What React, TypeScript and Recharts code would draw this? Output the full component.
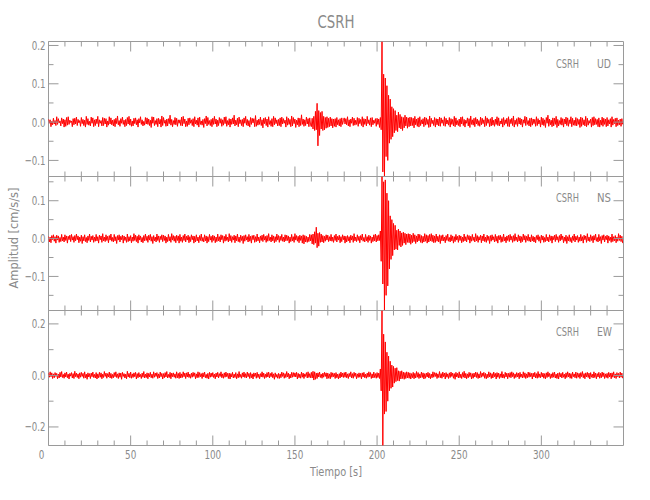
import React from 'react';
import { LineChart, Line, XAxis, YAxis, ReferenceArea } from 'recharts';

// Sampling interval of the traces (seconds) and end of the record
const DT = 0.5;
const X_MAX = 350;

// Acceleration traces, in units of 0.001 cm/s/s, one value per 0.5 s sample (20 values = 10 s per row)
const UD = [
  8,-3,6,-12,2,-7,10,-5,4,-9,14,-6,9,-2,3,-10,11,-4,8,-13,
  6,-11,12,-8,14,-6,5,-1,3,-12,9,-7,10,-5,13,-9,7,-2,4,-11,
  12,-4,7,-9,5,-13,15,-6,9,-8,2,-10,13,-3,11,-12,6,-9,8,-4,
  15,-12,6,-3,4,-10,12,-9,10,-5,9,-13,3,-8,14,-5,11,-7,5,-10,
  7,-12,10,-4,16,-7,4,-11,9,-3,13,-6,5,-12,7,-9,12,-5,15,-8,
  8,-11,3,-10,10,-4,11,-7,6,-13,9,-2,14,-6,6,-10,2,-8,12,-5,
  11,-6,8,-9,5,-14,14,-3,13,-9,4,-6,9,-12,10,-5,7,-13,16,-9,
  12,-3,5,-11,8,-10,9,-4,18,-8,7,-12,4,-6,12,-7,10,-11,6,-3,
  6,-9,13,-10,15,-4,8,-12,3,-11,10,-7,11,-3,6,-9,9,-12,14,-5,
  5,-8,11,-13,13,-6,3,-8,7,-14,9,-4,16,-10,12,-6,4,-9,7,-12,
  10,-6,15,-5,8,-12,5,-9,12,-3,9,-11,6,-8,13,-4,14,-11,4,-7,
  9,-13,8,-6,11,-5,18,-10,5,-7,10,-12,13,-4,6,-9,7,-12,11,-3,
  15,-8,7,-10,4,-13,12,-6,10,-2,9,-12,17,-11,5,-8,8,-6,13,-9,
  6,-15,10,-4,12,-9,8,-13,14,-6,4,-11,9,-12,15,-7,11,-4,6,-10,
  7,-9,11,-12,13,-5,9,-3,5,-13,14,-8,10,-6,7,-12,16,-10,12,-4,
  8,-14,5,-7,11,-12,10,-9,19,-6,8,-11,6,-9,13,-5,9,-12,11,-7,
  -12,10,-18,15,-22,28,-20,49,-62,30,-35,25,-18,28,-22,15,-20,12,-16,14,
  -14,10,-12,13,-10,9,-15,8,-11,9,-13,12,-7,6,-10,9,-12,11,-6,4,
  11,-5,9,-7,14,-10,6,-12,8,-3,13,-9,10,-8,5,-6,12,-11,10,-4,
  7,-9,14,-13,9,-6,8,-10,15,-4,6,-8,11,-12,12,-7,5,-3,9,-11,
  10,-6,8,-14,12,-20,210,-130,125,-142,115,-90,95,-100,70,-55,60,-45,40,-38,
  35,-28,30,-22,18,-25,26,-15,20,-18,14,-22,12,-15,18,-10,13,-16,11,-12,
  13,-10,12,-9,10,-15,15,-7,8,-11,11,-13,14,-9,6,-5,9,-12,13,-8,
  11,-6,7,-14,16,-12,10,-4,5,-9,12,-13,9,-7,8,-10,13,-11,11,-3,
  6,-9,14,-11,10,-5,5,-8,12,-13,9,-6,7,-10,15,-12,11,-7,4,-9,
  8,-12,13,-5,14,-9,7,-13,5,-3,11,-10,9,-14,16,-6,6,-8,10,-12,
  12,-5,8,-9,4,-11,13,-7,10,-4,6,-12,15,-9,11,-3,7,-12,9,-10,
  13,-8,5,-11,8,-6,14,-9,11,-10,3,-5,9,-13,12,-8,6,-4,10,-11,
  14,-12,7,-4,10,-9,16,-13,5,-6,9,-11,12,-5,11,-7,8,-13,6,-3,
  15,-9,13,-6,4,-10,10,-12,11,-8,8,-4,7,-11,14,-9,9,-5,5,-13,
  13,-7,10,-9,6,-14,12,-3,18,-11,8,-7,5,-12,11,-10,10,-6,15,-14,
  7,-10,4,-6,12,-8,9,-13,8,-5,13,-9,11,-11,6,-4,14,-12,10,-8,
  5,-9,12,-10,9,-6,7,-14,13,-11,11,-7,6,-10,15,-12,10,-8,4,-3,
  8,-13,12,-9,14,-7,9,-6,7,-12,11,-13,5,-8,13,-11,10,-6,8,-12,
  12,-10,6,-5,9,-13,14,-8,7,-4,10,-12,11,-9,5,-7,8,-11,9,-6,
];

const NS = [
  6,-9,4,-11,8,-3,10,-7,5,-12,9,-4,7,-10,3,-8,11,-6,4,-9,
  10,-5,7,-12,6,-3,9,-8,11,-4,5,-10,8,-6,12,-3,7,-11,4,-7,
  9,-13,5,-6,10,-8,3,-11,7,-5,12,-9,6,-4,8,-10,4,-7,11,-6,
  5,-12,9,-3,7,-10,13,-6,4,-8,10,-5,6,-11,8,-4,12,-7,3,-9,
  11,-6,5,-13,8,-4,10,-9,6,-3,9,-12,7,-5,4,-10,12,-8,5,-6,
  8,-11,4,-7,13,-5,9,-8,6,-12,10,-4,7,-9,3,-11,8,-6,12,-5,
  6,-10,9,-4,11,-7,5,-13,8,-6,4,-9,12,-5,7,-10,6,-3,10,-8,
  9,-5,7,-12,4,-8,11,-6,5,-10,13,-4,8,-7,6,-11,9,-5,7,-12,
  11,-7,4,-10,8,-5,12,-9,6,-4,9,-11,5,-8,10,-3,7,-12,6,-9,
  10,-6,4,-11,8,-5,12,-7,3,-9,10,-6,7,-12,5,-8,11,-4,6,-10,
  9,-5,7,-11,4,-8,12,-6,5,-9,10,-3,8,-12,6,-7,11,-5,4,-9,
  13,-6,8,-10,5,-4,9,-11,7,-6,12,-8,4,-10,9,-5,6,-13,8,-7,
  10,-4,5,-9,11,-7,6,-12,8,-3,9,-10,5,-8,12,-6,4,-11,7,-5,
  9,-8,11,-4,6,-10,8,-7,13,-5,4,-9,10,-6,7,-11,5,-8,12,-4,
  8,-10,6,-5,11,-7,4,-9,10,-6,9,-5,7,-12,4,-8,11,-6,5,-10,
  13,-4,8,-7,6,-11,9,-5,7,-12,10,-14,8,-9,6,-10,4,-8,11,-6,
  10,-14,12,-16,18,-12,30,-24,14,-20,16,-10,12,-9,8,-11,6,-7,10,-4,
  9,-8,5,-6,11,-7,4,-10,8,-5,12,-9,6,-4,9,-11,5,-8,10,-3,
  7,-12,6,-9,8,-6,5,-11,9,-4,7,-10,13,-6,4,-8,10,-5,6,-11,
  8,-4,12,-7,3,-9,11,-6,5,-10,9,-5,7,-12,4,-8,10,-6,12,-9,
  8,-6,10,-5,20,-60,164,-120,150,-190,155,-150,120,-125,100,-80,60,-55,50,-45,
  40,-30,35,-28,22,-30,25,-18,20,-22,15,-18,17,-12,14,-16,12,-10,13,-11,
  12,-15,9,-11,14,-8,10,-13,7,-9,12,-6,11,-10,8,-12,6,-9,13,-7,
  10,-12,8,-9,11,-6,13,-8,9,-11,7,-10,12,-7,6,-9,10,-13,8,-6,
  10,-6,4,-11,8,-5,12,-7,3,-9,10,-6,7,-12,5,-8,11,-4,6,-10,
  9,-5,7,-11,4,-8,12,-6,5,-9,10,-3,8,-12,6,-7,11,-5,4,-9,
  13,-6,8,-10,5,-4,9,-11,7,-6,12,-8,4,-10,9,-5,6,-13,8,-7,
  10,-4,5,-9,11,-7,6,-12,8,-3,9,-10,5,-8,12,-6,4,-11,7,-5,
  9,-8,11,-4,6,-10,8,-7,13,-5,4,-9,10,-6,7,-11,5,-8,12,-4,
  8,-10,6,-5,11,-7,4,-9,10,-6,6,-9,4,-11,8,-3,10,-7,5,-12,
  9,-4,7,-10,3,-8,11,-6,4,-9,10,-5,7,-12,6,-3,9,-8,11,-4,
  5,-10,8,-6,12,-3,7,-11,4,-7,9,-13,5,-6,10,-8,3,-11,7,-5,
  12,-9,6,-4,8,-10,4,-7,11,-6,5,-12,9,-3,7,-10,13,-6,4,-8,
  10,-5,6,-11,8,-4,12,-7,3,-9,11,-6,5,-13,8,-4,10,-9,6,-3,
  9,-12,7,-5,4,-10,12,-8,5,-6,8,-11,4,-7,13,-5,9,-8,6,-12,
];

const EW = [
  9,-7,14,-5,10,-12,6,-9,11,-4,8,-13,5,-10,12,-6,15,-8,4,-11,
  10,-6,13,-9,5,-14,8,-3,11,-10,7,-12,16,-5,9,-8,6,-13,10,-7,
  12,-4,8,-11,14,-9,5,-15,10,-6,7,-12,9,-5,13,-8,4,-10,11,-14,
  6,-9,12,-7,10,-13,5,-8,15,-4,9,-11,7,-6,13,-10,8,-12,4,-9,
  11,-5,14,-8,6,-12,10,-7,9,-15,12,-4,7,-10,5,-13,16,-6,8,-9,
  13,-11,6,-8,10,-5,12,-14,7,-9,11,-6,4,-12,9,-7,15,-10,5,-8,
  10,-13,8,-6,12,-9,5,-11,14,-7,9,-4,11,-12,6,-10,13,-5,8,-14,
  7,-9,11,-6,15,-10,4,-8,12,-13,9,-5,10,-7,6,-11,14,-9,8,-12,
  12,-10,6,-8,14,-5,9,-12,10,-6,13,-8,5,-11,9,-7,12,-4,10,-13,
  6,-9,14,-8,11,-5,7,-12,10,-6,13,-9,4,-11,8,-14,12,-7,9,-5,
  11,-8,5,-13,9,-6,12,-10,7,-4,14,-9,6,-11,10,-7,13,-5,8,-12,
  9,-14,7,-6,12,-10,5,-8,11,-13,6,-9,15,-7,4,-11,10,-6,13,-8,
  7,-10,13,-5,8,-12,11,-9,6,-14,10,-4,9,-11,12,-8,5,-13,7,-6,
  14,-7,9,-12,5,-8,11,-6,13,-10,8,-5,12,-9,6,-15,10,-7,4,-11,
  8,-12,6,-9,13,-4,10,-11,7,-8,15,-6,9,-13,5,-10,12,-7,11,-5,
  10,-6,12,-14,8,-9,5,-11,13,-7,9,-12,6,-4,11,-10,14,-8,7,-9,
  12,-10,16,-18,14,-15,9,-12,10,-6,13,-8,5,-11,9,-7,12,-4,10,-13,
  9,-11,6,-13,12,-7,10,-5,8,-12,11,-9,5,-14,7,-10,13,-6,9,-8,
  11,-7,13,-9,6,-12,8,-5,14,-10,7,-11,12,-4,9,-13,6,-8,10,-7,
  8,-13,10,-6,12,-9,5,-11,9,-7,14,-5,11,-12,6,-10,13,-8,7,-11,
  11,-8,9,-12,25,-60,252,-272,160,-150,130,-140,90,-100,75,-60,55,-50,40,-45,
  35,-30,28,-24,30,-20,18,-22,16,-14,18,-12,13,-15,11,-12,14,-10,12,-11,
  10,-14,7,-9,12,-13,8,-10,15,-7,11,-12,6,-9,13,-8,10,-14,7,-11,
  9,-6,12,-10,8,-13,5,-9,14,-7,11,-4,10,-12,6,-8,15,-9,7,-11,
  13,-5,9,-14,11,-7,6,-12,10,-8,13,-4,9,-11,7,-15,12,-6,8,-10,
  14,-9,5,-12,11,-7,16,-10,8,-13,6,-9,12,-5,10,-14,7,-11,9,-6,
  13,-8,11,-12,6,-10,15,-7,9,-4,12,-11,8,-13,5,-9,14,-6,10,-12,
  7,-10,13,-5,8,-14,11,-7,9,-12,6,-8,15,-10,4,-11,12,-6,9,-13,
  8,-7,11,-9,14,-5,10,-12,6,-8,11,-6,9,-13,12,-7,5,-10,14,-8,
  10,-12,6,-9,13,-7,11,-5,8,-14,9,-6,12,-10,7,-11,15,-8,6,-9,
  12,-6,9,-11,7,-13,10,-8,14,-5,8,-12,6,-9,11,-7,13,-10,5,-12,
  9,-14,11,-6,8,-10,12,-7,5,-13,10,-8,14,-6,9,-11,7,-12,13,-5,
  6,-9,13,-11,10,-7,8,-12,11,-5,15,-9,7,-13,10,-6,12,-8,9,-14,
  11,-7,5,-10,14,-8,9,-13,7,-6,12,-11,8,-9,13,-5,10,-12,6,-8,
  8,-11,12,-6,9,-13,10,-7,14,-9,6,-12,11,-5,8,-10,13,-7,9,-11,
];

// Axis ticks
const X_TICKS = [0,10,20,30,40,50,60,70,80,90,100,110,120,130,140,150,160,170,180,190,200,210,220,230,240,250,260,270,280,290,300,310,320,330,340];
const X_LABELED = [0,50,100,150,200,250,300];

const UD_TICKS = [-0.1,-0.05,0,0.05,0.1,0.15,0.2];
const UD_LABELED = [-0.1,0,0.1,0.2];
const NS_TICKS = [-0.15,-0.1,-0.05,0,0.05,0.1,0.15];
const NS_LABELED = [-0.1,0,0.1];
const EW_TICKS = [-0.2,-0.1,0,0.1,0.2];
const EW_LABELED = [-0.2,0,0.2];

const UD_RANGE = [-0.142, 0.2104];
const NS_RANGE = [-0.19, 0.164];
const EW_RANGE = [-0.272, 0.252];

const STATION = 'CSRH';
const COMPONENTS = ['UD', 'NS', 'EW'];
const TITLE = 'CSRH';
const X_TITLE = 'Tiempo  [s]';
const Y_TITLE = 'Amplitud  [cm/s/s]';

// Layout
const W = 650;
const H = 500;
const PLOT_LEFT = 48.5;
const PLOT_RIGHT = 623.5;
const PLOT_W = PLOT_RIGHT - PLOT_LEFT;
const PANEL_TOPS = [41, 176, 310];
const PANEL_BOTTOM = 445;
const PAD_TOP = 10;
const PAD_BOTTOM = 40;

const AXIS = '#9a9a9a';
const TEXT = '#8a8a8a';
const FONT = "'Liberation Sans Narrow', 'DejaVu Sans Condensed', 'Liberation Sans', sans-serif";

const fmt = (v: number) => {
  const s = Math.abs(v).toFixed(1);
  return v < -1e-9 ? '\u2212' + s : s;
};
const labelWidth = (s: string) => {
  let w = 0;
  for (const ch of s) w += ch === '.' ? 2.6 : ch === '\u2212' ? 7 : 5.6;
  return w;
};

const isIn = (arr: number[], v: number) => arr.some((a) => Math.abs(a - v) < 1e-9);

const makeYTick = (labeled: number[]) => (props: any) => {
  const { payload } = props;
  const v = payload.value;
  const y = typeof payload.coordinate === 'number' ? payload.coordinate : props.y;
  const x = PLOT_LEFT;
  const major = isIn(labeled, v);
  const len = major ? 10 : 5;
  const s = fmt(v);
  return (
    <g>
      <line x1={x} x2={x + len} y1={y} y2={y} stroke={AXIS} strokeWidth={1} />
      <line x1={x + PLOT_W} x2={x + PLOT_W - len} y1={y} y2={y} stroke={AXIS} strokeWidth={1} />
      {major && (
        <text x={x - 3} y={y + 4.5} textAnchor="end" fontSize={13} fill={TEXT} fontFamily={FONT}
          textLength={labelWidth(s)} lengthAdjust="spacingAndGlyphs">
          {s}
        </text>
      )}
    </g>
  );
};

const makeXTick = (plotTop: number, plotBottom: number, showLabels: boolean) => (props: any) => {
  const { payload } = props;
  const v = payload.value;
  const x = typeof payload.coordinate === 'number' ? payload.coordinate : props.x;
  const major = isIn(X_LABELED, v);
  const len = major ? 10 : 5;
  const s = String(v);
  return (
    <g>
      <line x1={x} x2={x} y1={plotBottom} y2={plotBottom - len} stroke={AXIS} strokeWidth={1} />
      <line x1={x} x2={x} y1={plotTop} y2={plotTop + len} stroke={AXIS} strokeWidth={1} />
      {showLabels && major && (
        <text x={v === 0 ? x - 7 : x} y={plotBottom + 13} textAnchor="middle" fontSize={13} fill={TEXT}
          fontFamily={FONT} textLength={labelWidth(s)} lengthAdjust="spacingAndGlyphs">
          {s}
        </text>
      )}
    </g>
  );
};

const buildData = (vals: number[]) => vals.map((v, i) => ({ t: i * DT, a: v / 1000 }));

const PANELS = [
  { data: buildData(UD), ticks: UD_TICKS, labeled: UD_LABELED, range: UD_RANGE },
  { data: buildData(NS), ticks: NS_TICKS, labeled: NS_LABELED, range: NS_RANGE },
  { data: buildData(EW), ticks: EW_TICKS, labeled: EW_LABELED, range: EW_RANGE },
];

export default function App() {
  return (
    <div style={{ position: 'absolute', left: 0, top: 0, width: W, height: H, background: '#fff' }}>
      {PANELS.map((p, i) => {
        const top = PANEL_TOPS[i];
        const bottom = i < 2 ? PANEL_TOPS[i + 1] : PANEL_BOTTOM;
        const ph = bottom - top;
        const ch = PAD_TOP + ph + PAD_BOTTOM;
        const plotTop = PAD_TOP + 0.5;
        const plotBottom = plotTop + ph;
        return (
          <div key={i} style={{ position: 'absolute', left: 0, top: top - PAD_TOP }}>
            <LineChart
              width={W}
              height={ch}
              data={p.data}
              margin={{ top: plotTop, right: W - PLOT_RIGHT, bottom: PAD_BOTTOM - 0.5 - 1, left: PLOT_LEFT - 1 }}
            >
              <XAxis
                dataKey="t"
                type="number"
                domain={[0, X_MAX]}
                allowDataOverflow
                ticks={X_TICKS}
                interval={0}
                height={1}
                tickSize={0}
                tickMargin={0}
                axisLine={false}
                tickLine={false}
                tick={makeXTick(plotTop, plotBottom, i === 2)}
              />
              <YAxis
                type="number"
                domain={p.range}
                allowDataOverflow
                ticks={p.ticks}
                interval={0}
                width={1}
                tickSize={0}
                tickMargin={0}
                axisLine={false}
                tickLine={false}
                tick={makeYTick(p.labeled)}
              />
              <ReferenceArea x1={0} x2={X_MAX} y1={p.range[0]} y2={p.range[1]} fill="none" stroke={AXIS} strokeWidth={1} ifOverflow="visible" />
              <Line type="linear" dataKey="a" stroke="#ff0000" strokeWidth={1} dot={false} isAnimationActive={false} />
            </LineChart>
          </div>
        );
      })}
      <svg width={W} height={H} style={{ position: 'absolute', left: 0, top: 0, pointerEvents: 'none' }}>
        <g fontFamily={FONT} fill={TEXT}>
          <text x={336} y={28} textAnchor="middle" fontSize={18} textLength={37} lengthAdjust="spacingAndGlyphs">{TITLE}</text>
          <text x={336} y={476} textAnchor="middle" fontSize={13} textLength={52} lengthAdjust="spacingAndGlyphs">{X_TITLE}</text>
          <text x={18} y={238} textAnchor="middle" fontSize={13} textLength={101} lengthAdjust="spacingAndGlyphs" transform="rotate(-90 18 238)">{Y_TITLE}</text>
          {COMPONENTS.map((c, i) => (
            <g key={c}>
              <text x={556} y={68 + i * 134} fontSize={12} textLength={23} lengthAdjust="spacingAndGlyphs">{STATION}</text>
              <text x={597} y={68 + i * 134} fontSize={12} textLength={c === 'EW' ? 15 : 14} lengthAdjust="spacingAndGlyphs">{c}</text>
            </g>
          ))}
        </g>
      </svg>
    </div>
  );
}
